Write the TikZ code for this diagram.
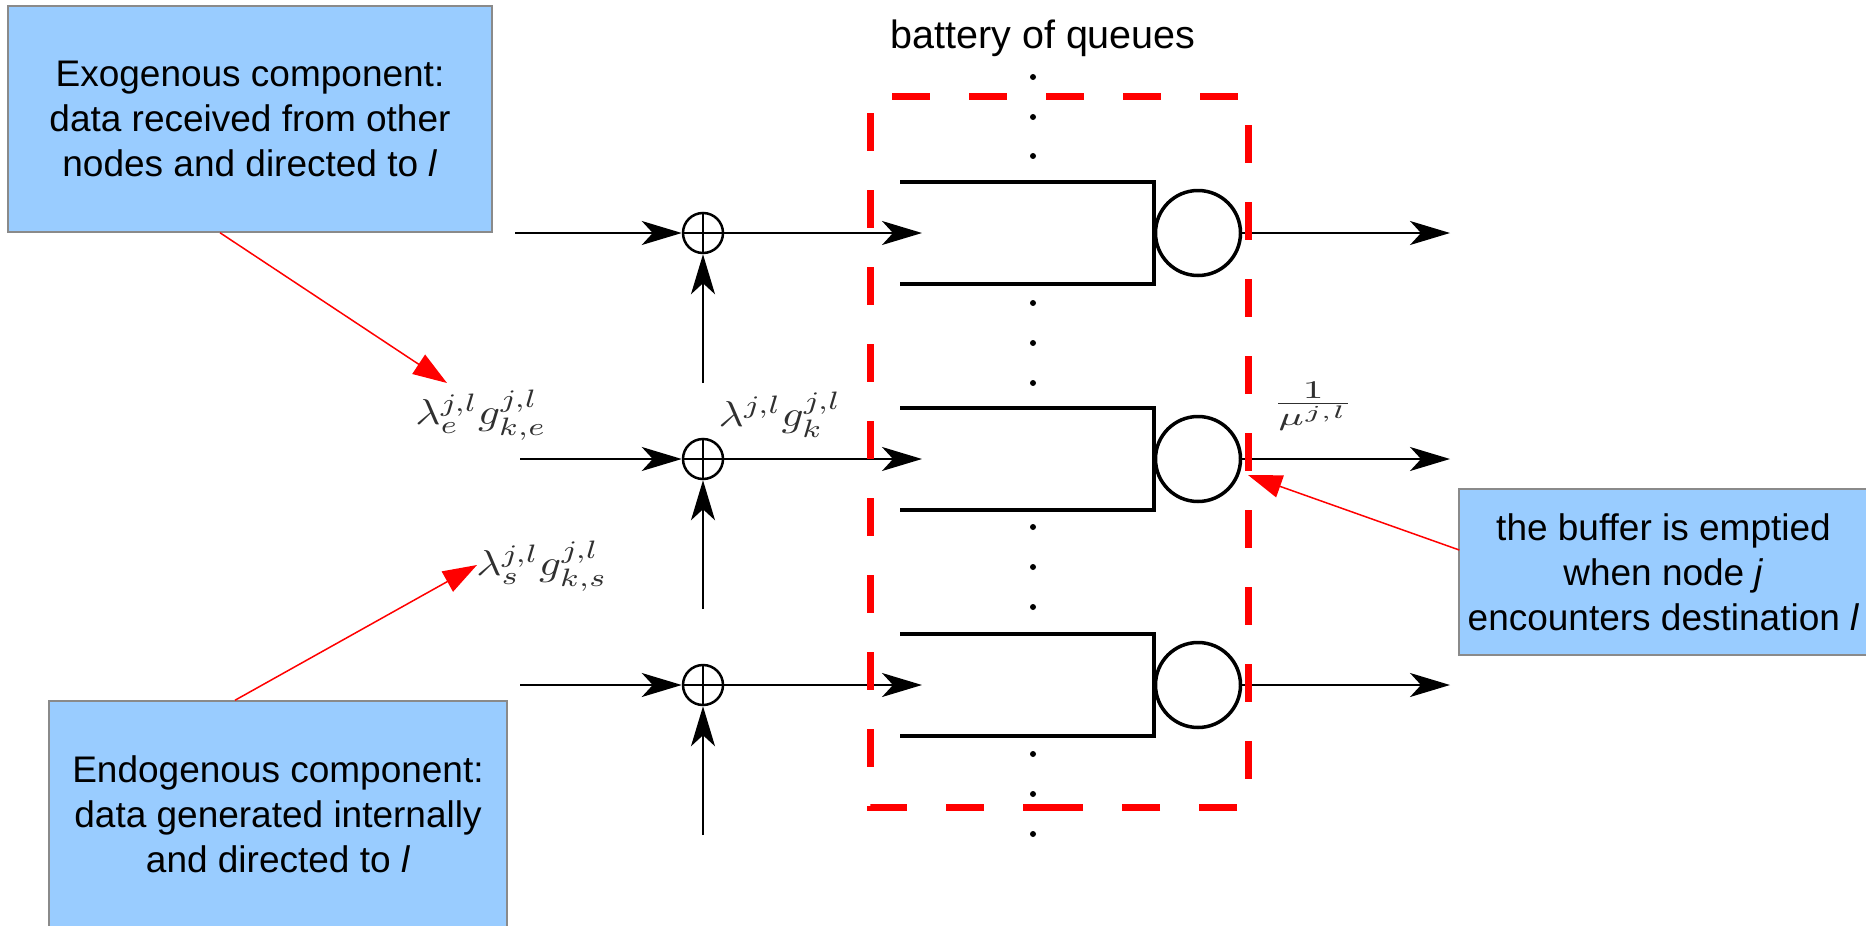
\documentclass[tikz,border=0pt]{standalone}
\usepackage{graphicx}
\usepackage{fontspec}
\setmainfont{Liberation Sans}
\usetikzlibrary{arrows.meta,calc}
\definecolor{boxblue}{HTML}{99CCFF}
\definecolor{boxedge}{HTML}{8A8A8A}
\definecolor{mathgray}{HTML}{303030}
\begin{document}
\begin{tikzpicture}[x=1pt,y=-1pt,
  infobox/.style={draw=boxedge, line width=1.5pt, fill=boxblue, align=center, inner sep=0pt, font=\fontsize{37}{45}\selectfont},
  flow/.style={line width=2pt, -{Stealth[length=40pt,width=24pt,inset=11pt]}},
  note/.style={red, line width=1.5pt, -{Triangle[length=34pt,width=23pt]}},
  sumnode/.style={circle, draw, line width=2.5pt, minimum size=40pt, inner sep=0pt},
  server/.style={circle, draw, line width=3.5pt, minimum size=85pt, inner sep=0pt},
  queueline/.style={line width=4pt},
  mathlbl/.style={text=mathgray, inner sep=0pt, font=\normalsize},
  fence/.style={red, line width=7pt, dash pattern=on 38pt off 39pt},
]
\useasboundingbox (0,0) rectangle (1866,926);
\clip (0,0) rectangle (1866,926);

% explanatory boxes
\node[infobox, minimum width=484pt, minimum height=226pt] (exo) at (250,119)
  {Exogenous component:\\data received from other\\nodes and directed to \textit{l}};
\node[infobox, minimum width=458pt, minimum height=227pt] (endo) at (278,814.5)
  {Endogenous component:\\data generated internally\\and directed to \textit{l}};
\node[infobox, minimum width=409pt, minimum height=166pt] (buf) at (1663.5,572)
  {the buffer is emptied\\when node \textit{j}\\encounters destination \textit{l}};

\node[font=\fontsize{39.5}{45}\selectfont, anchor=base, inner sep=0pt] (title) at (1043,48) {battery of queues};

% rows
\foreach \i/\y/\xin in {1/233/515, 2/459/520, 3/685/520}{
  \node[sumnode] (s\i) at (703,\y) {};
  \draw[line width=2pt] (s\i.north) -- (s\i.south) (s\i.west) -- (s\i.east);
  \coordinate (in\i) at (\xin,\y);
  \coordinate (b\i) at (703,\y+150);
  \coordinate (q\i) at (922,\y);
  \coordinate (o\i) at (1450,\y);
  \draw[flow] (in\i) -- (s\i);
  \draw[flow] (b\i) -- (s\i);
  \draw[flow] (s\i) -- (q\i);
  \draw[queueline] (900,\y-51) -- (1154,\y-51) -- (1154,\y+51) -- (900,\y+51);
  \node[server] (srv\i) at (1198,\y) {};
  \draw[flow] (srv\i) -- (o\i);
}

% dots
\foreach \d in {77,117,156,303,343,383,527,567,607,754,794,834}
  \fill (1033,\d) circle (3pt);

% dashed battery frame
\draw[fence, dash phase=55pt] (870,96) -- (1248,96) -- (1248,807) -- (1045,807);
\draw[fence, dash phase=60pt] (870,96) -- (870,807) -- (1062,807);

% math labels
\node[mathlbl] (le) at (481,415) {\scalebox{4.32}[3.6]{$\lambda_e^{j,l}g_{k,e}^{j,l}$}};
\node[mathlbl] (lk) at (780,415) {\scalebox{4.32}[3.6]{$\lambda^{j,l}g_k^{j,l}$}};
\node[mathlbl] (ls) at (542,566) {\scalebox{4.32}[3.6]{$\lambda_s^{j,l}g_{k,s}^{j,l}$}};
\node[mathlbl] (mu) at (1313,406) {\scalebox{5.4}[3.64]{$\frac{1}{\mu^{j,l}}$}};

% red pointers
\coordinate (leTip) at (447,383);
\coordinate (lsTip) at (477,565);
\coordinate (srvTip) at (1248,475);
\draw[note] ($(exo.south)+(-30,0)$) -- (leTip);
\draw[note] ($(endo.north)+(-43,0)$) -- (lsTip);
\draw[note] ($(buf.west)+(1,-22)$) -- (srvTip);
\end{tikzpicture}
\end{document}
